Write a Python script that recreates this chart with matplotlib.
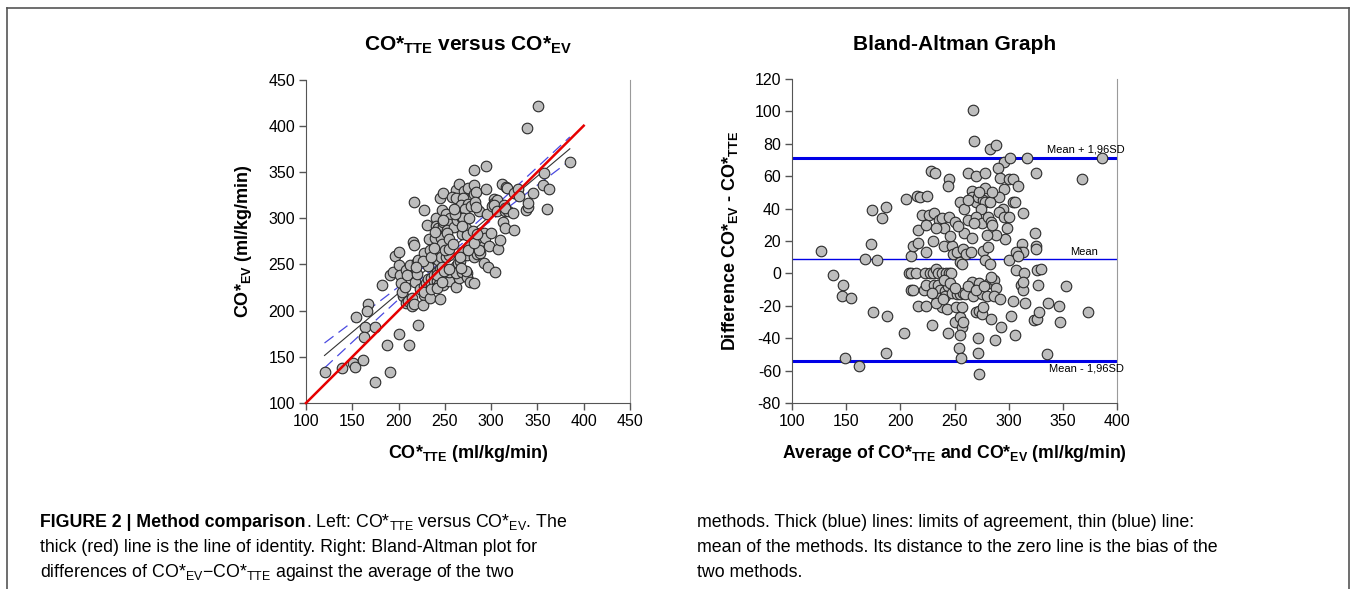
import numpy as np
import matplotlib
matplotlib.use("Agg")
import matplotlib.pyplot as plt
from matplotlib.lines import Line2D

plt.rcParams['font.family'] = ['Liberation Sans', 'DejaVu Sans']
plt.rcParams['mathtext.default'] = 'regular'
plt.rcParams['axes.unicode_minus'] = False

# Bland-Altman readings: average of the two methods and difference EV - TTE
avg = [267, 268, 283, 288, 386, 368,
       296, 301, 317, 325,
       290, 292, 300, 304, 309,
       228, 232, 262, 270, 278, 245, 244, 278,
       266, 296, 291, 266, 270, 272, 276, 278,
       205, 215, 218, 225,
       255, 259, 274, 295, 304, 306,
       291, 296, 300, 313,
       174, 187, 183,
       220, 226, 231, 236, 238, 245, 250,
       262, 270, 275, 268, 281, 284, 285,
       216, 224, 259, 266, 297,
       324, 325, 325, 312, 310, 313,
       173, 127, 167, 178,
       210, 212, 216, 224,
       240, 248, 249, 252,
       255, 257, 258, 261, 265,
       276, 281, 278, 283,
       300, 307, 309, 307, 314, 326, 330,
       138, 147, 146, 154,
       208, 210, 214, 223, 227, 230, 233, 235, 238, 242, 245, 247,
       210, 212, 222, 224, 231, 235, 237, 241, 244,
       234, 236, 238, 241, 243,
       248, 252, 255, 258, 260,
       266, 267, 273, 275, 280, 282, 286, 288, 286, 292,
       311, 313, 313, 315, 304, 302, 327,
       336, 346, 353, 323, 326, 328, 347, 373,
       216, 224, 175, 188, 229, 203, 244,
       250, 251, 255, 257, 255, 258, 257,
       270, 273, 275, 276,
       284, 287, 293, 272, 306,
       254, 256, 272, 187, 149, 162, 273, 335,
       273, 283, 240, 246, 229, 233, 239, 250, 262, 270, 277, 284,
       240, 246, 253, 262, 285, 288, 230, 233, 280, 298]
diff = [101, 82, 77, 79, 71, 58,
        69, 71, 71, 62,
        65, 59, 58, 58, 54,
        63, 62, 62, 60, 62, 58, 54, 53,
        51, 52, 47, 47, 44, 47, 45, 44,
        46, 48, 47, 48,
        44, 40, 40, 40, 44, 44,
        38, 35, 35, 37,
        39, 41, 34,
        36, 36, 37, 33, 34, 35, 32,
        33, 35, 31, 31, 35, 32, 30,
        27, 30, 25, 22, 21,
        25, 17, 15, 18, 13, 13,
        18, 14, 9, 8,
        11, 17, 19, 13,
        17, 17, 12, 13,
        7, 6, 15, 12, 13,
        14, 16, 8, 6,
        8, 13, 11, 2, 0, 2, 3,
        -1, -7, -14, -15,
        0, 0, 0, 0, 0, 0, 3, 0, 0, 0, 0, 0,
        -10, -10, -10, -7, -7, -7, -10, -11, -8,
        -16, -15, -21, -14, -22,
        -12, -13, -13, -12, -13,
        -5, -14, -6, -13, -14, -6, -4, -9, -14, -16,
        -7, -10, -5, -18, -17, -26, -7,
        -18, -20, -8, -29, -28, -24, -30, -24,
        -20, -20, -24, -26, -32, -37, -37,
        -30, -21, -27, -33, -38, -30, -21,
        -24, -23, -25, -21,
        -28, -41, -33, -40, -38,
        -46, -52, -49, -49, -52, -57, -62, -50,
        50, 44, -4, -6, -12, -18, -16, -9, -8, -10, -8, -2,
        28, 23, 29, 45, 50, 24, 20, 28, 24, 28]

# bias and limits of agreement as drawn
bias = 8.8
loa_hi = 71.5
loa_lo = -53.8

avg = np.array(avg, dtype=float)
diff = np.array(diff, dtype=float)
co_tte = avg - diff / 2
co_ev = avg + diff / 2

W, H = 1356, 589
fig = plt.figure(figsize=(W / 100, H / 100), dpi=100)

pt_face = '#bdbdbd'
pt_edge = '#2a2a2a'
blue = '#0000e6'


def style_axes(ax):
    ax.spines['top'].set_visible(False)
    ax.spines['right'].set_color('#9a9a9a')
    ax.spines['left'].set_color('#555555')
    ax.spines['bottom'].set_color('#555555')
    ax.tick_params(direction='out', length=5, width=1, color='#555555',
                   labelsize=11.5, pad=3)


# ---- left: CO*TTE versus CO*EV ----
ax1 = fig.add_axes([306 / W, 1 - 403 / H, 324 / W, 323.5 / H])
style_axes(ax1)
ax1.set_xlim(100, 450)
ax1.set_ylim(100, 450)
ax1.set_xticks(np.arange(100, 451, 50))
ax1.set_yticks(np.arange(100, 451, 50))

# regression line with 95% confidence band
slope, icpt = np.polyfit(co_tte, co_ev, 1)
xs = np.linspace(co_tte.min(), co_tte.max(), 100)
n = len(co_tte)
resid = co_ev - (slope * co_tte + icpt)
s = np.sqrt(np.sum(resid ** 2) / (n - 2))
sxx = np.sum((co_tte - co_tte.mean()) ** 2)
ci = 1.97 * s * np.sqrt(1 / n + (xs - co_tte.mean()) ** 2 / sxx)
ax1.plot(xs, slope * xs + icpt, color='#333333', lw=0.8, zorder=2)
ax1.plot(xs, slope * xs + icpt + ci, color='#4a4ae0', lw=0.9, ls=(0, (9, 5)), zorder=2)
ax1.plot(xs, slope * xs + icpt - ci, color='#4a4ae0', lw=0.9, ls=(0, (9, 5)), zorder=2)

ax1.scatter(co_tte, co_ev, s=58, facecolor=pt_face, edgecolor=pt_edge, lw=0.8, zorder=3)
ax1.plot([100, 400], [100, 400], color='#e60000', lw=1.8, zorder=4, clip_on=False)

ax1.set_title('CO*$_{\\mathregular{TTE}}$ versus CO*$_{\\mathregular{EV}}$',
              fontsize=15, fontweight='bold', pad=21)
ax1.set_xlabel('CO*$_{\\mathregular{TTE}}$ (ml/kg/min)', fontsize=13,
               fontweight='bold', labelpad=10)
ax1.set_ylabel('CO*$_{\\mathregular{EV}}$ (ml/kg/min)', fontsize=13,
               fontweight='bold', labelpad=10)

# ---- right: Bland-Altman ----
ax2 = fig.add_axes([792 / W, 1 - 403 / H, 325 / W, 324 / H])
style_axes(ax2)
ax2.set_xlim(100, 400)
ax2.set_ylim(-80, 120)
ax2.set_xticks(np.arange(100, 401, 50))
ax2.set_yticks(np.arange(-80, 121, 20))

ax2.scatter(avg, diff, s=58, facecolor=pt_face, edgecolor=pt_edge, lw=0.8, zorder=3)
ax2.axhline(loa_hi, color=blue, lw=2.2, zorder=2)
ax2.axhline(loa_lo, color=blue, lw=2.2, zorder=2)
ax2.axhline(bias, color=blue, lw=1.0, zorder=2)

tr = ax2.get_yaxis_transform()
ax2.text(1.022, loa_hi + 1.8, 'Mean + 1,96SD', transform=tr, ha='right',
         va='bottom', fontsize=8, zorder=5)
ax2.text(0.898, bias + 1.5, 'Mean', transform=tr, ha='center',
         va='bottom', fontsize=8, zorder=5)
ax2.text(1.022, loa_lo - 1.8, 'Mean - 1,96SD', transform=tr, ha='right',
         va='top', fontsize=8, zorder=5)

ax2.set_title('Bland-Altman Graph', fontsize=15, fontweight='bold', pad=21)
ax2.set_xlabel('Average of CO*$_{\\mathregular{TTE}}$ and CO*$_{\\mathregular{EV}}$ (ml/kg/min)',
               fontsize=12.7, fontweight='bold', labelpad=10)
ax2.set_ylabel('Difference CO*$_{\\mathregular{EV}}$ - CO*$_{\\mathregular{TTE}}$',
               fontsize=13, fontweight='bold', labelpad=10)

# ---- frame ----
frame_kw = dict(transform=fig.transFigure, color='#555555', lw=1.2)
fig.add_artist(Line2D([7 / W, 1349 / W], [1 - 8 / H, 1 - 8 / H], **frame_kw))
fig.add_artist(Line2D([7 / W, 7 / W], [1 - 8 / H, 0], **frame_kw))
fig.add_artist(Line2D([1349 / W, 1349 / W], [1 - 8 / H, 0], **frame_kw))

# ---- caption ----
cap_family = ['Liberation Sans Narrow', 'Liberation Sans']
renderer = fig.canvas.get_renderer()


def caption_line(x_px, y_px, parts):
    x = x_px
    for txt, weight in parts:
        t = fig.text(x / W, 1 - y_px / H, txt, fontsize=12.8, fontweight=weight,
                     family=cap_family, va='baseline', ha='left')
        x = t.get_window_extent(renderer).x1


caption_line(40, 527, [('FIGURE 2 | Method comparison', 'bold'),
                       ('. Left: CO*$_{\\mathregular{TTE}}$ versus CO*$_{\\mathregular{EV}}$. The', 'normal')])
caption_line(40, 552, [('thick (red) line is the line of identity. Right: Bland-Altman plot for', 'normal')])
caption_line(40, 577, [('differences of CO*$_{\\mathregular{EV}}$\u2212CO*$_{\\mathregular{TTE}}$ against the average of the two', 'normal')])
caption_line(697, 527, [('methods. Thick (blue) lines: limits of agreement, thin (blue) line:', 'normal')])
caption_line(697, 552, [('mean of the methods. Its distance to the zero line is the bias of the', 'normal')])
caption_line(697, 577, [('two methods.', 'normal')])

fig.savefig('out.png', dpi=100)
